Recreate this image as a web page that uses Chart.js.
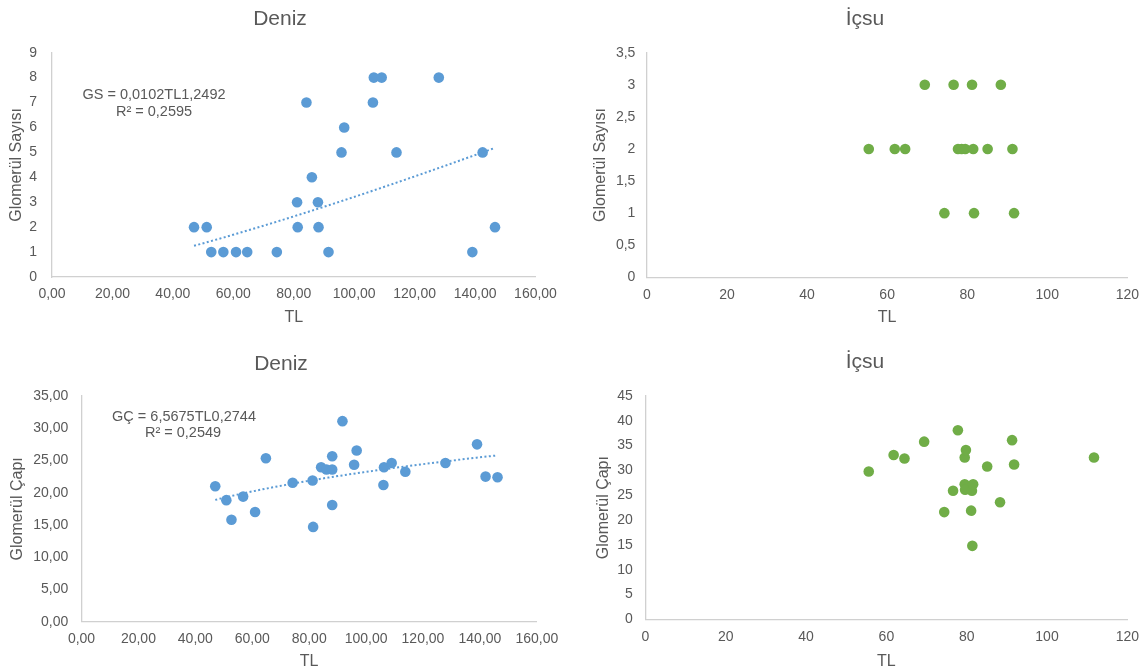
<!DOCTYPE html>
<html>
<head>
<meta charset="utf-8">
<script src="https://cdn.jsdelivr.net/npm/chart.js@4/dist/chart.umd.min.js"></script>
<style>
  html, body { margin: 0; padding: 0; background: #fff; overflow: hidden; }
  .panel { position: absolute; width: 574px; height: 336px; }
</style>
</head>
<body>
<div class="panel" style="left:0;top:0"><canvas id="cv1" width="574" height="336"></canvas></div>
<div class="panel" style="left:574px;top:0"><canvas id="cv2" width="574" height="336"></canvas></div>
<div class="panel" style="left:0;top:336px"><canvas id="cv3" width="574" height="336"></canvas></div>
<div class="panel" style="left:574px;top:336px"><canvas id="cv4" width="574" height="336"></canvas></div>
<script>
const TEXT_COLOR = '#595959'
const AXIS_COLOR = '#d0d0d0'
const BLUE = '#5b9bd5'
const GREEN = '#70ad47'
const W = 574, H = 336

// Deniz - glomerül sayısı
const denizSayiTL = [47.0, 51.2, 52.7, 56.7, 60.9, 64.6, 74.4, 81.1, 81.3, 84.2, 86.0, 88.0, 88.2, 91.5, 95.8, 96.7, 106.2, 106.5, 109.1, 114.0, 128.0, 139.1, 142.5, 146.6]
const denizSayi = [2, 2, 1, 1, 1, 1, 1, 3, 2, 7, 4, 3, 2, 1, 5, 6, 7, 8, 8, 5, 8, 1, 5, 2]
const denizSayiA = 0.0102, denizSayiB = 1.2492
const denizSayiEq = ['GS = 0,0102TL1,2492', 'R² = 0,2595']

// İçsu - glomerül sayısı
const icsuSayiTL = [69.4, 76.6, 81.2, 88.4, 55.4, 61.9, 64.5, 77.7, 78.6, 79.5, 81.5, 85.1, 91.3, 74.3, 81.7, 91.7]
const icsuSayi = [3, 3, 3, 3, 2, 2, 2, 2, 2, 2, 2, 2, 2, 1, 1, 1]

// Deniz - glomerül çapı
const denizCapTL = [47.0, 50.9, 52.7, 56.8, 61.0, 64.8, 74.2, 81.2, 81.4, 84.2, 86.1, 88.1, 88.1, 88.1, 91.7, 95.8, 96.7, 106.1, 106.3, 109.0, 113.8, 127.9, 139.0, 142.0, 146.2]
const denizCap = [21.0, 18.85, 15.8, 19.4, 17.0, 25.35, 21.55, 21.9, 14.7, 23.95, 23.6, 23.6, 25.65, 18.1, 31.1, 24.35, 26.55, 21.2, 23.95, 24.6, 23.25, 24.6, 27.5, 22.5, 22.4]
const denizCapA = 6.5675, denizCapB = 0.2744
const denizCapEq = ['GÇ = 6,5675TL0,2744', 'R² = 0,2549']

// İçsu - glomerül çapı
const icsuCapTL = [55.6, 61.8, 64.5, 69.4, 74.4, 76.6, 77.8, 79.5, 79.5, 79.6, 79.8, 81.1, 81.3, 81.4, 81.6, 85.1, 88.3, 91.3, 91.8, 111.7]
const icsuCap = [29.8, 33.1, 32.4, 35.8, 21.6, 25.9, 38.1, 32.6, 27.2, 26.1, 34.1, 21.9, 25.9, 14.8, 27.2, 30.8, 23.6, 36.1, 31.2, 32.6]

Chart.defaults.font.family = '"Liberation Sans", Arial, sans-serif'
Chart.defaults.color = TEXT_COLOR

const toPoints = (xs, ys) => xs.map((x, i) => ({x: x, y: ys[i]}))
const comma = (v, digits) => v.toFixed(digits).replace('.', ',')

/**
 * Power trendline y = a * x^b over the range of the data
 */
function powerTrend(xs, a, b) {
  const lo = Math.min(...xs), hi = Math.max(...xs)
  const pts = []
  for (let i = 0; i <= 40; i++) {
    const x = lo + (hi - lo) * i / 40
    pts.push({x: x, y: a * Math.pow(x, b)})
  }
  return pts
}

/**
 * Panel title and equation text, drawn in canvas pixels
 */
function textPlugin(items) {
  return {
    id: 'panelText',
    afterDraw(chart) {
      const ctx = chart.ctx
      ctx.save()
      ctx.fillStyle = TEXT_COLOR
      ctx.textAlign = 'center'
      ctx.textBaseline = 'middle'
      items.forEach(it => {
        ctx.font = it.size + 'px ' + Chart.defaults.font.family
        ctx.fillText(it.text, it.x, it.y)
      })
      ctx.restore()
    }
  }
}

function makePanel(id, p) {
  const datasets = [{
    data: toPoints(p.xs, p.ys),
    backgroundColor: p.color,
    borderColor: p.color,
    borderWidth: 0,
    pointRadius: 5.3,
    pointHoverRadius: 5.3
  }]
  if (p.trend) {
    datasets.push({
      data: p.trend,
      showLine: true,
      pointRadius: 0,
      borderColor: p.color,
      borderWidth: 2,
      borderDash: [2, 2.4],
      fill: false
    })
  }
  return new Chart(document.getElementById(id), {
    type: 'scatter',
    data: {datasets: datasets},
    options: {
      responsive: false,
      animation: false,
      events: [],
      layout: {padding: {top: p.area.top, right: W - p.area.right, bottom: 0, left: 0}},
      plugins: {legend: {display: false}, tooltip: {enabled: false}, title: {display: false}},
      scales: {
        x: {
          type: 'linear', min: 0, max: p.xMax,
          afterFit: s => { s.height = H - p.area.bottom },
          grid: {display: false, drawTicks: false},
          border: {display: true, color: AXIS_COLOR, width: 1.3},
          ticks: {stepSize: 20, autoSkip: false, maxRotation: 0, padding: 9, font: {size: 14}, callback: p.xFmt},
          title: {display: true, text: 'TL', font: {size: 16}, padding: {top: 0, bottom: p.xTitlePad}}
        },
        y: {
          type: 'linear', min: 0, max: p.yMax,
          afterFit: s => { s.width = p.area.left },
          grid: {display: false, drawTicks: false},
          border: {display: true, color: AXIS_COLOR, width: 1.3},
          ticks: {stepSize: p.yStep, autoSkip: false, padding: p.yTickPad, font: {size: 14}, callback: p.yFmt},
          title: {display: true, text: p.yTitle, font: {size: 16}, padding: {top: p.yTitlePad, bottom: 0}}
        }
      }
    },
    plugins: [textPlugin(p.labels)]
  })
}

makePanel('cv1', {
  xs: denizSayiTL, ys: denizSayi, color: BLUE,
  trend: powerTrend(denizSayiTL, denizSayiA, denizSayiB),
  area: {left: 52, right: 535.5, top: 52.7, bottom: 277},
  xMax: 160, yMax: 9, yStep: 1,
  xFmt: v => comma(v, 2), yFmt: v => String(v),
  yTitle: 'Glomerül Sayısı', yTitlePad: 7, yTickPad: 15, xTitlePad: 9,
  labels: [
    {text: 'Deniz', x: 280, y: 19, size: 21},
    {text: denizSayiEq[0], x: 154, y: 95, size: 14.5},
    {text: denizSayiEq[1], x: 154, y: 112, size: 14.5}
  ]
})

makePanel('cv2', {
  xs: icsuSayiTL, ys: icsuSayi, color: GREEN,
  area: {left: 73, right: 555, top: 52.7, bottom: 277.3},
  xMax: 120, yMax: 3.5, yStep: 0.5,
  xFmt: v => String(v), yFmt: v => String(v).replace('.', ','),
  yTitle: 'Glomerül Sayısı', yTitlePad: 17.4, yTickPad: 11.6, xTitlePad: 9,
  labels: [{text: 'İçsu', x: 291, y: 19, size: 21}]
})

makePanel('cv3', {
  xs: denizCapTL, ys: denizCap, color: BLUE,
  trend: powerTrend(denizCapTL, denizCapA, denizCapB),
  area: {left: 81.5, right: 536.8, top: 60, bottom: 285.7},
  xMax: 160, yMax: 35, yStep: 5,
  xFmt: v => comma(v, 2), yFmt: v => comma(v, 2),
  yTitle: 'Glomerül Çapı', yTitlePad: 8.4, yTickPad: 13.3, xTitlePad: 0.7,
  labels: [
    {text: 'Deniz', x: 281, y: 28, size: 21},
    {text: denizCapEq[0], x: 184, y: 80.7, size: 14.5},
    {text: denizCapEq[1], x: 183, y: 97, size: 14.5}
  ]
})

makePanel('cv4', {
  xs: icsuCapTL, ys: icsuCap, color: GREEN,
  area: {left: 71.5, right: 556, top: 60, bottom: 283.3},
  xMax: 120, yMax: 45, yStep: 5,
  xFmt: v => String(v), yFmt: v => String(v),
  yTitle: 'Glomerül Çapı', yTitlePad: 20.4, yTickPad: 12.7, xTitlePad: 0.7,
  labels: [{text: 'İçsu', x: 291, y: 26, size: 21}]
})
</script>
</body>
</html>
